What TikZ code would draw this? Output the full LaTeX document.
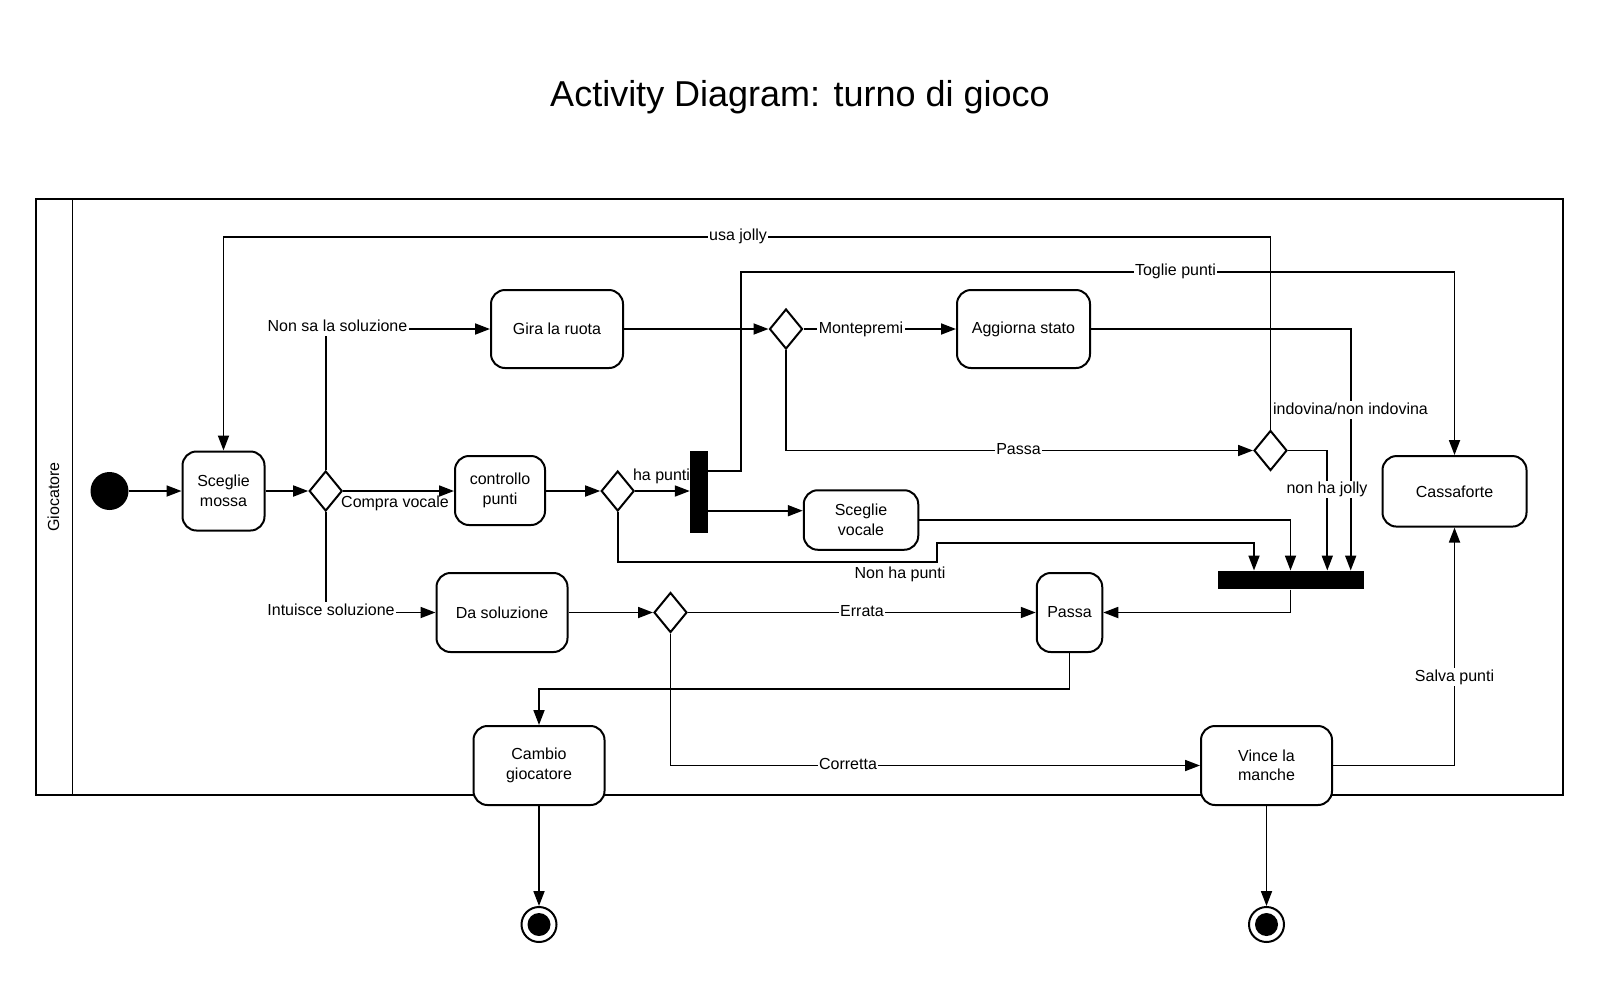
\documentclass[tikz,border=0pt]{standalone}
\usepackage{fontspec}
\setmainfont{Liberation Sans}
\usetikzlibrary{arrows.meta,shapes.geometric}
\begin{document}
\begin{tikzpicture}[x=1pt,y=-1pt,
  every node/.style={font=\fontsize{16}{19.5}\selectfont},
  act/.style={draw, line width=2pt, rounded corners=14pt, fill=white, align=center, inner sep=0pt},
  dec/.style={draw, diamond, line width=2pt, fill=white, minimum width=33pt, minimum height=40pt, inner sep=0pt},
  bar/.style={fill=black, inner sep=0pt},
  conn/.style={line width=1.8pt, -{Triangle[length=15pt,width=11pt]}},
  lab/.style={fill=white, inner sep=1.5pt, text height=11.5pt, text depth=3.4pt},
  plab/.style={inner sep=0pt, text height=11.5pt, text depth=3.4pt},
  endnode/.style={draw, circle, line width=2pt, minimum size=35pt, inner sep=0pt, fill=white}
]
\useasboundingbox (0,0) rectangle (1600,980);
\fill[white] (0,0) rectangle (1600,980);

% title
\node[font=\fontsize{36}{40}\selectfont, anchor=base] (title) at (800,106) {Activity Diagram: turno di gioco};

% swimlane
\draw[line width=1.8pt] (36,199) rectangle (1563,795);
\draw[line width=1.8pt] (72.5,199) -- (72.5,795);
\node[rotate=90] (lane) at (53.5,497) {Giocatore};

% nodes
\node[circle, fill=black, minimum size=38pt, inner sep=0pt] (start) at (109.5,491) {};
\node[act, minimum width=82pt, minimum height=79pt] (sm) at (223.5,491) {Sceglie\\mossa};
\node[dec] (d1) at (325.7,491) {};
\node[act, minimum width=90pt, minimum height=69pt] (cp) at (500,490.5) {controllo\\punti};
\node[dec] (d2) at (617.7,491) {};
\node[bar, minimum width=18pt, minimum height=82pt] (fork) at (699,491.5) {};
\node[act, minimum width=132pt, minimum height=78pt] (gira) at (557,329) {Gira la ruota};
\node[dec] (d3) at (786,329) {};
\node[act, minimum width=133pt, minimum height=78pt] (agg) at (1023.5,329) {Aggiorna stato};
\node[dec] (d4) at (1270.5,450.5) {};
\node[act, minimum width=144pt, minimum height=70.5pt] (cass) at (1454.5,491.3) {Cassaforte};
\node[act, minimum width=114.5pt, minimum height=59.5pt] (sv) at (861,520) {Sceglie\\vocale};
\node[bar, minimum width=146pt, minimum height=18.6pt] (join) at (1290.5,580) {};
\node[act, minimum width=131pt, minimum height=79pt] (ds) at (502,612.5) {Da soluzione};
\node[dec] (d5) at (670.5,612.5) {};
\node[act, minimum width=65.5pt, minimum height=79pt] (passa) at (1069.5,612.5) {Passa};
\node[act, minimum width=131pt, minimum height=79pt] (cambio) at (539,765.5) {Cambio\\giocatore};
\node[act, minimum width=131pt, minimum height=79pt] (vince) at (1266.5,765.5) {Vince la\\manche};
\node[endnode] (end1) at (539,924.5) {};
\fill (end1.center) circle (11.5pt);
\node[endnode] (end2) at (1266.5,924.5) {};
\fill (end2.center) circle (11.5pt);

% helper coordinates
\coordinate (tg1) at (741,470.7);
\coordinate (tg2) at (741,271.7);
\coordinate (svin) at (760,510.7);
\coordinate (uj) at (1270.5,236.7);
\coordinate (np2) at (937,562);
\coordinate (np3) at (937,543);
\coordinate (j1) at (1254,0);
\coordinate (j3) at (1327.3,0);
\coordinate (j4) at (1350.7,0);
\coordinate (pc) at (1069.5,689);

% connectors
\draw[conn] (start) -- (sm);
\draw[conn] (sm) -- (d1);
\draw[conn] (d1.east) -- (cp.west |- d1.east);
\draw[conn] (d1.north) |- (gira.west);
\draw[conn] (d1.south) |- (ds.west);
\draw[conn] (cp.east |- d2) -- (d2.west);
\draw[conn] (d2.east) -- (fork.west |- d2.east);
\draw[conn] (d2.south) |- (np2) -- (np3) -| (j1 |- join.north);
\draw[conn] (fork.east |- tg1) -- (tg1) -- (tg2) -| (cass.north);
\draw[conn] (fork.east |- svin) -- (sv.west |- svin);
\draw[conn] (sv.east) -| (join.north);
\draw[conn] (gira.east) -- (d3.west);
\draw[conn] (d3.east) -- (agg.west);
\draw[conn] (agg.east) -| (j4 |- join.north);
\draw[conn] (d3.south) |- (d4.west);
\draw[conn] (d4.east) -| (j3 |- join.north);
\draw[conn] (d4.north) -- (uj) -| (sm.north);
\draw[conn] (join.south) |- (passa.east);
\draw[conn] (ds.east) -- (d5.west);
\draw[conn] (d5.east) -- (passa.west);
\draw[conn] (d5.south) |- (vince.west);
\draw[conn] (passa.south) -- (pc) -| (cambio.north);
\draw[conn] (vince.east) -| (cass.south);
\draw[conn] (cambio.south) -- (end1.north);
\draw[conn] (vince.south) -- (end2.north);

% labels
\node[lab] (lnonsa) at (337.5,327) {Non sa la soluzione};
\node[lab] (lintu) at (331,611) {Intuisce soluzione};
\node[plab] (lcompra) at (395,503) {Compra vocale};
\node[plab] (lhapunti) at (661.5,476) {ha punti};
\node[plab] (lnonha) at (900,574) {Non ha punti};
\node[lab] (lusa) at (738,236.7) {usa jolly};
\node[lab] (ltoglie) at (1175.5,271.7) {Toglie punti};
\node[lab] (lmonte) at (861,329) {Montepremi};
\node[lab] (lpassa) at (1018.5,450.5) {Passa};
\node[lab] (lindo) at (1350.5,410) {indovina/non indovina};
\node[lab] (ljolly) at (1327,489.5) {non ha jolly};
\node[lab] (lerr) at (862,612.5) {Errata};
\node[lab] (lcorr) at (848,765.5) {Corretta};
\node[lab] (lsalva) at (1454.5,677) {Salva punti};
\end{tikzpicture}
\end{document}
